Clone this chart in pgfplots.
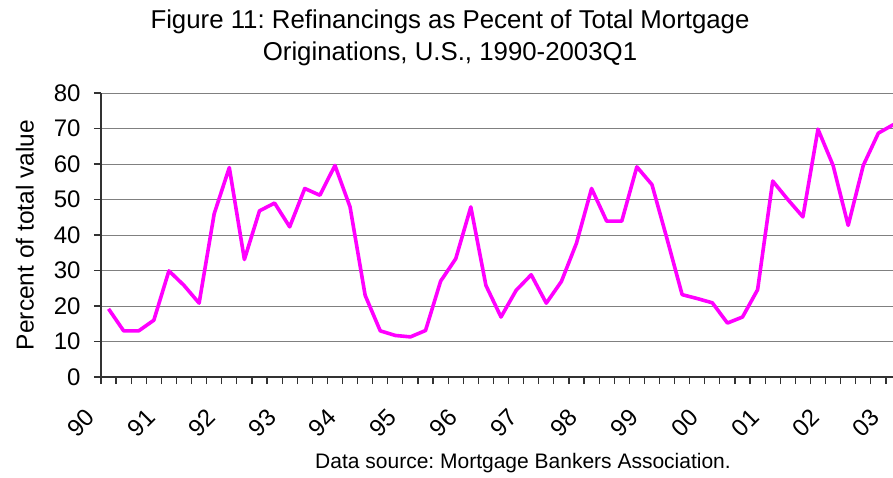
\documentclass[border=0pt]{standalone}
\usepackage{pgfplots}
\pgfplotsset{compat=1.18}
\usepackage{fontspec}
\setmainfont{Liberation Sans}
\frenchspacing
\definecolor{magline}{RGB}{255,0,255}
\definecolor{gridgray}{RGB}{128,128,128}
\definecolor{axisgray}{RGB}{50,50,50}
\begin{document}
\begin{tikzpicture}[x=1pt,y=1pt]
\useasboundingbox (0,0) rectangle (893,477);
\begin{axis}[
  at={(101pt,100pt)}, anchor=south west,
  scale only axis, width=800pt, height=284pt,
  xmin=-0.5, xmax=52.5, ymin=0, ymax=80,
  axis x line*=bottom, axis y line*=left,
  axis line style={axisgray, line width=1.3pt},
  ytick={0,10,...,80},
  ymajorgrids, major grid style={gridgray, line width=1pt},
  xtick={0,4,...,52},
  xticklabels={90,91,92,93,94,95,96,97,98,99,00,01,02,03},
  minor xtick={-0.5,0.5,...,52.5},
  xtick style={draw=none},
  minor x tick style={axisgray, line width=1.2pt, draw=axisgray},
  xticklabel style={rotate=45, anchor=north east, yshift=4pt, xshift=-30pt},
  tick align=outside, major tick length=7pt, minor tick length=7pt,
  ytick style={axisgray, line width=1.2pt},
  /pgf/number format/assume math mode=true,
  tick label style={font=\fontsize{24}{26}\selectfont},
  yticklabel style={xshift=-10pt},
  ylabel={Percent of total value},
  ylabel style={font=\fontsize{24.5}{28}\selectfont, yshift=13pt},
  clip=false,
]
\addplot[magline, line width=3.6pt, line join=round] coordinates {
(0,19.2) (1,13.0) (2,13.0) (3,16.0) (4,29.9) (5,25.8) (6,20.8) (7,46.0)
(8,59.0) (9,33.1) (10,46.8) (11,49.0) (12,42.3) (13,53.1) (14,51.2) (15,59.6)
(16,47.9) (17,23.0) (18,13.0) (19,11.7) (20,11.3) (21,13.1) (22,27.0) (23,33.3)
(24,47.9) (25,25.8) (26,16.9) (27,24.4) (28,28.8) (29,20.8) (30,26.9) (31,37.7)
(32,53.1) (33,43.9) (34,43.9) (35,59.2) (36,54.2) (37,38.9) (38,23.2) (39,22.1)
(40,20.9) (41,15.2) (42,16.9) (43,24.6) (44,55.2) (45,50.0) (46,45.1) (47,69.8)
(48,59.6) (49,42.7) (50,59.6) (51,68.7) (52,71.1)
};
\end{axis}
\node[font=\fontsize{25.8}{32}\selectfont, align=center, anchor=center] at (450,439)
  {Figure 11: Refinancings as Pecent of Total Mortgage\\Originations, U.S., 1990-2003Q1};
\node[font=\fontsize{21}{24}\selectfont, anchor=center] at (523,14)
  {Data source: Mortgage Bankers Association.};
\end{tikzpicture}
\end{document}
